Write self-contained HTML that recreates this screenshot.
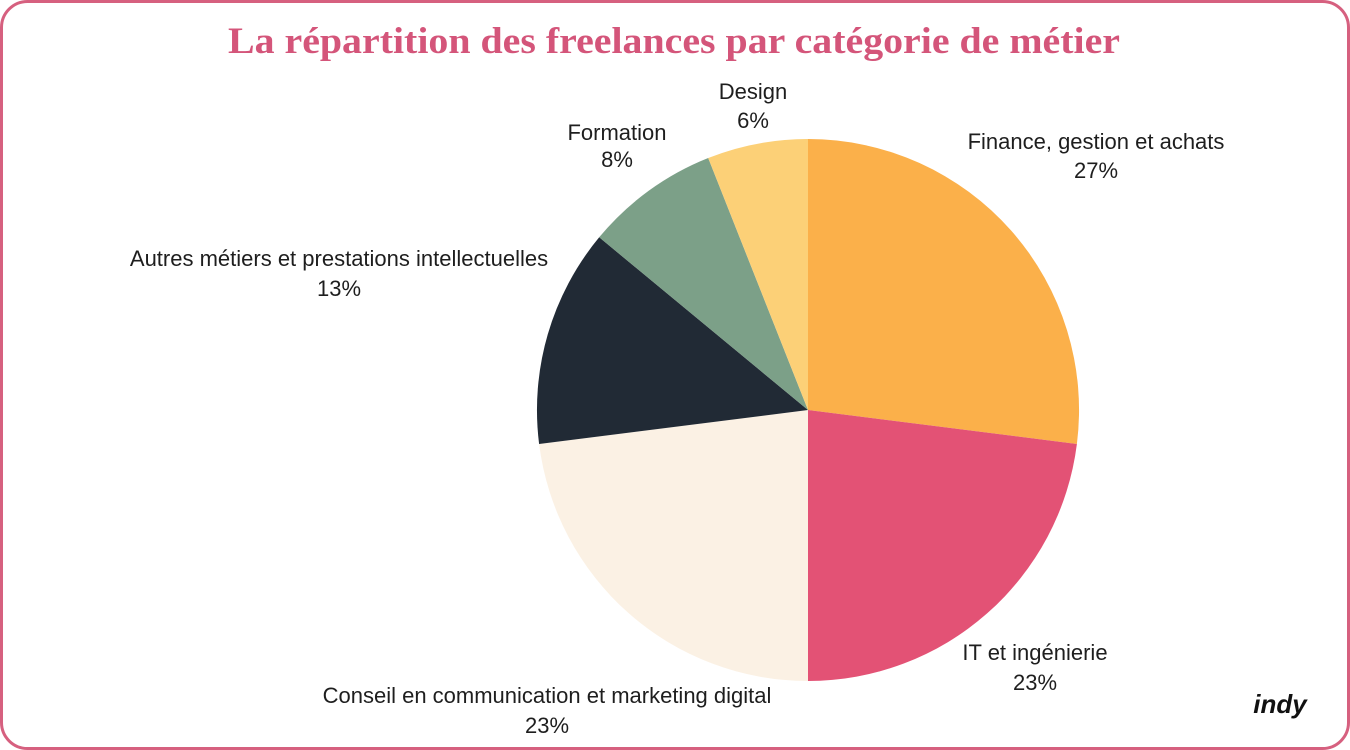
<!DOCTYPE html>
<html><head><meta charset="utf-8"><style>
html,body{margin:0;padding:0;background:#fff;width:1350px;height:750px;overflow:hidden}
svg text{font-family:"Liberation Sans",sans-serif;font-size:22px;fill:#1e1e1e;text-anchor:middle}
</style></head><body>
<svg width="1350" height="750" viewBox="0 0 1350 750">
<rect x="1.5" y="1.5" width="1347" height="747" rx="26" ry="26" fill="#fff" stroke="#d6607f" stroke-width="3"/>
<text x="674" y="53" style="font-family:'Liberation Serif',serif;font-weight:bold;font-size:37px;fill:#d4557a" textLength="892" lengthAdjust="spacingAndGlyphs">La répartition des freelances par catégorie de métier</text>
<g stroke="none">
<path d="M808,410 L808,139 A271,271 0 0 1 1076.9,444 Z" fill="#fbb04a"/>
<path d="M808,410 L1076.9,444 A271,271 0 0 1 808,681 Z" fill="#e35275"/>
<path d="M808,410 L808,681 A271,271 0 0 1 539.1,444 Z" fill="#fbf1e4"/>
<path d="M808,410 L539.1,444 A271,271 0 0 1 599.2,237.3 Z" fill="#212a35"/>
<path d="M808,410 L599.2,237.3 A271,271 0 0 1 708.2,158 Z" fill="#7ca088"/>
<path d="M808,410 L708.2,158 A271,271 0 0 1 808,139 Z" fill="#fcd077"/>
</g>
<text x="1096" y="149">Finance, gestion et achats</text>
<text x="1096" y="178">27%</text>
<text x="1035" y="660">IT et ingénierie</text>
<text x="1035" y="690">23%</text>
<text x="547" y="703">Conseil en communication et marketing digital</text>
<text x="547" y="733">23%</text>
<text x="339" y="266">Autres métiers et prestations intellectuelles</text>
<text x="339" y="296">13%</text>
<text x="617" y="140">Formation</text>
<text x="617" y="167">8%</text>
<text x="753" y="99">Design</text>
<text x="753" y="128">6%</text>
<text x="1280" y="713" style="font-weight:bold;font-style:italic;font-size:26px;fill:#111">indy</text>
</svg>
</body></html>
